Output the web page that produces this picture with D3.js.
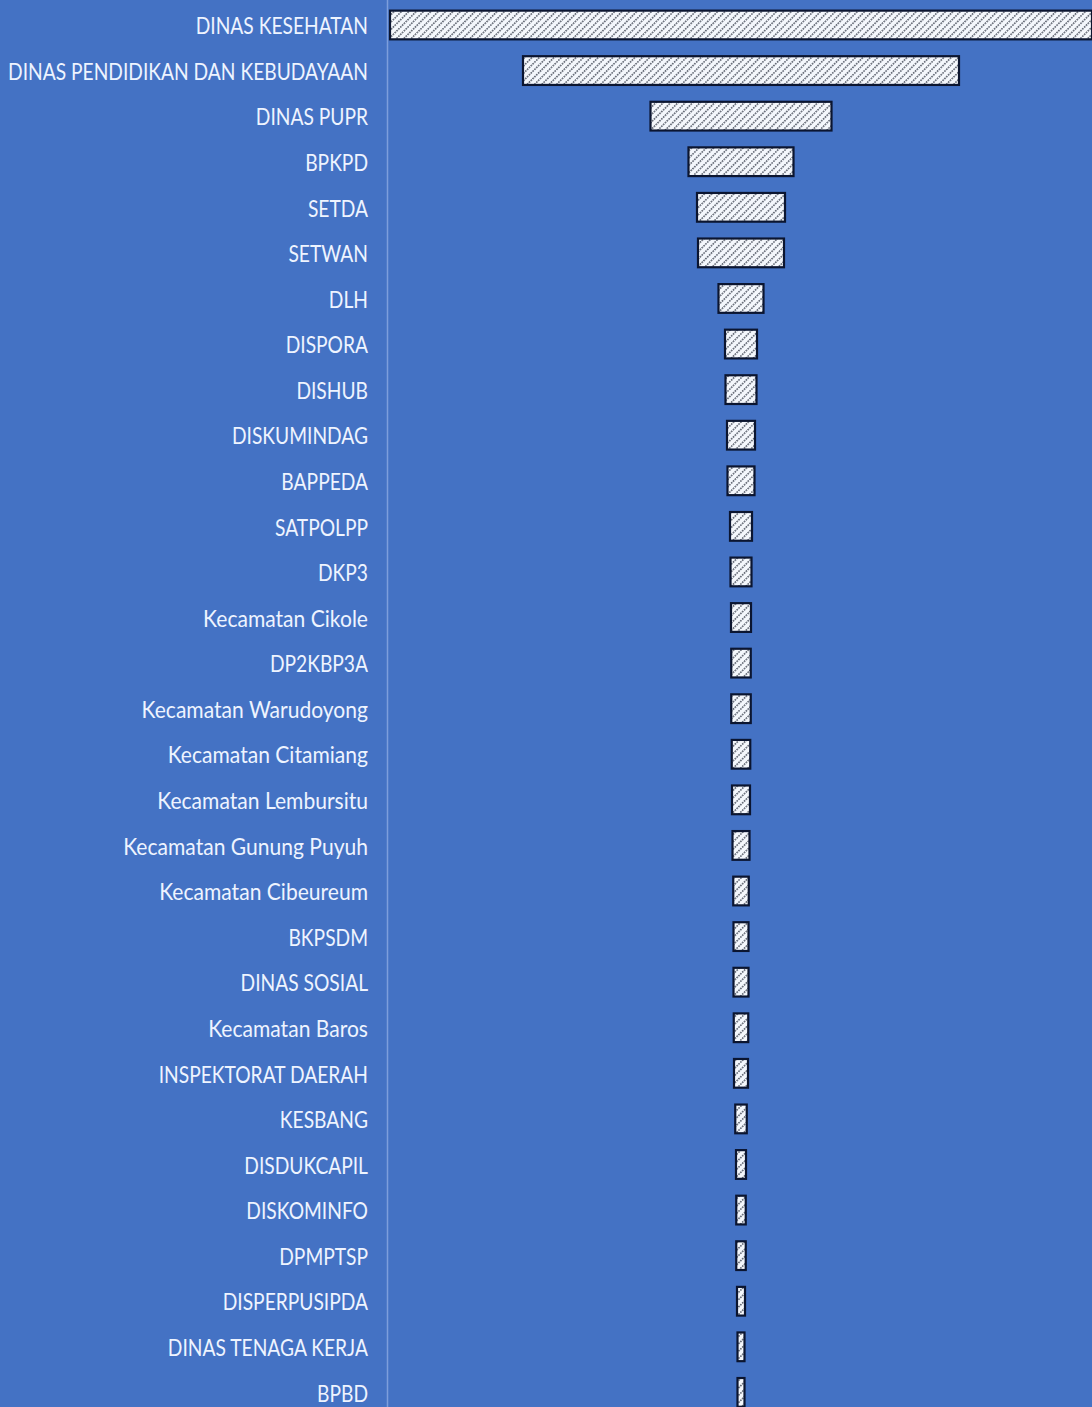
<!DOCTYPE html>
<html>
<head>
<meta charset="utf-8">
<script src="https://cdn.jsdelivr.net/npm/d3@7"></script>
<style>
  html, body { margin: 0; padding: 0; background: #4472C4; }
  svg { display: block; }
</style>
</head>
<body>
<svg id="chart" width="1092" height="1407"></svg>
<script>
const categories = [
  "DINAS KESEHATAN", "DINAS PENDIDIKAN DAN KEBUDAYAAN", "DINAS PUPR", "BPKPD", "SETDA",
  "SETWAN", "DLH", "DISPORA", "DISHUB", "DISKUMINDAG", "BAPPEDA", "SATPOLPP", "DKP3",
  "Kecamatan Cikole", "DP2KBP3A", "Kecamatan Warudoyong", "Kecamatan Citamiang",
  "Kecamatan Lembursitu", "Kecamatan Gunung Puyuh", "Kecamatan Cibeureum", "BKPSDM",
  "DINAS SOSIAL", "Kecamatan Baros", "INSPEKTORAT DAERAH", "KESBANG", "DISDUKCAPIL",
  "DISKOMINFO", "DPMPTSP", "DISPERPUSIPDA", "DINAS TENAGA KERJA", "BPBD"
];
const values = [
  702, 436, 181, 105, 88, 86, 45, 32, 31, 28, 27, 22, 21,
  20, 19.5, 19.5, 18.5, 18, 17, 15.5, 15, 15, 14.5, 14, 11.5, 10,
  9.5, 9.5, 8, 7, 7
];

const W = 1092, H = 1407;
const centerX = 741;
const svg = d3.select("#chart");

const defs = svg.append("defs");
const pat = defs.append("pattern")
  .attr("id", "hatch")
  .attr("patternUnits", "userSpaceOnUse")
  .attr("width", 5.2).attr("height", 5.2)
  .attr("patternTransform", "rotate(45)");
pat.append("rect").attr("width", 5.2).attr("height", 5.2).attr("fill", "#f4f7fc");
pat.append("line").attr("x1", 0.8).attr("y1", 0).attr("x2", 0.8).attr("y2", 5.2)
  .attr("stroke", "#5e6470").attr("stroke-width", 1.5).attr("stroke-dasharray", "1.8,0.8");

const step = 45.58;
const y = d3.scaleBand()
  .domain(categories)
  .range([2.2, 2.2 + step * categories.length])
  .paddingInner(0.37)
  .paddingOuter(0.185);

const x = d3.scaleLinear()
  .domain([0, d3.max(values)])
  .range([0, 702]);

// axis line
svg.append("line")
  .attr("x1", 387.5).attr("x2", 387.5)
  .attr("y1", 0).attr("y2", H)
  .attr("stroke", "#7d9edc").attr("stroke-width", 1.5);

const data = categories.map((c, i) => ({ c, v: values[i] }));

svg.append("g").selectAll("rect")
  .data(data)
  .join("rect")
  .attr("x", d => centerX - x(d.v) / 2)
  .attr("y", d => y(d.c))
  .attr("width", d => x(d.v))
  .attr("height", y.bandwidth())
  .attr("fill", "url(#hatch)")
  .attr("stroke", "#0b1530")
  .attr("stroke-width", 2.2);

const yAxis = d3.axisLeft(y).tickSize(0).tickPadding(0);
const gAxis = svg.append("g")
  .attr("transform", "translate(368,0)")
  .call(yAxis);
gAxis.select(".domain").remove();
const labels = gAxis.selectAll("text")
  .attr("fill", "#eef4ff")
  .attr("font-family", "Lato, 'Open Sans', sans-serif")
  .attr("font-size", 23)
  .attr("dy", "0.4em")
  .attr("x", 0)
  .attr("text-anchor", "end");

// condense horizontally (reference font is narrow; its lowercase is relatively wider)
let longest = 0;
labels.each(function() { longest = Math.max(longest, this.getComputedTextLength()); });
const sx = 360 / longest;
labels.attr("transform", d => `scale(${/[a-z]/.test(d) ? sx * 1.097 : sx},1)`);
</script>
</body>
</html>
